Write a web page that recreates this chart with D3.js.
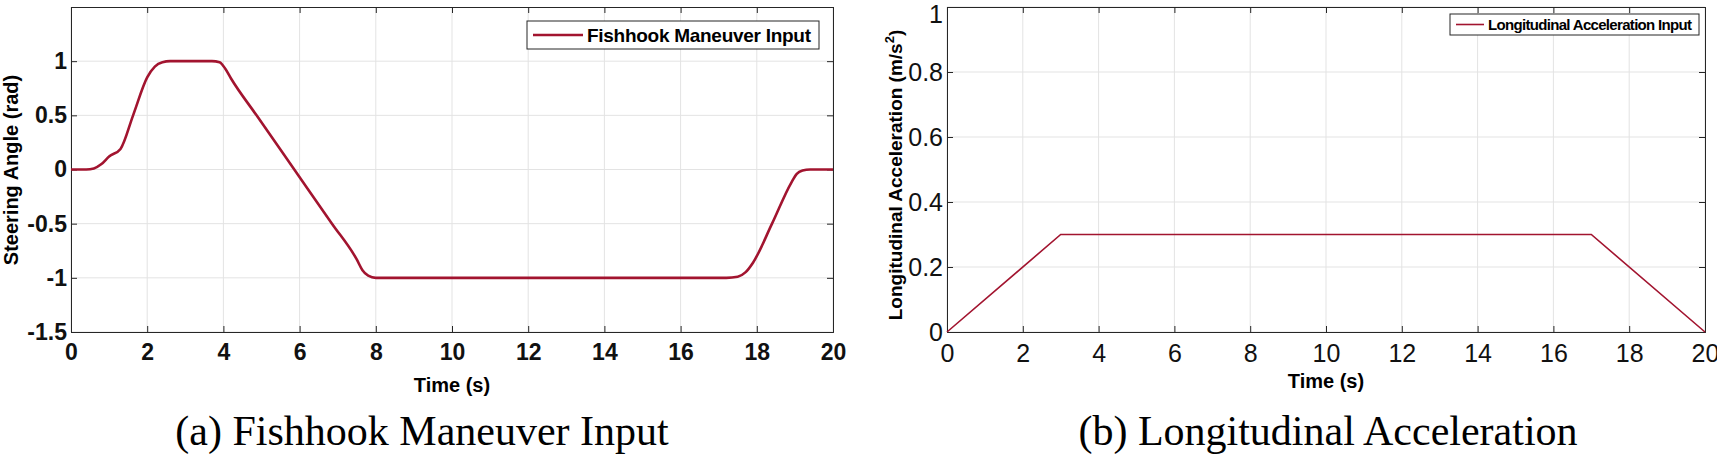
<!DOCTYPE html><html><head><meta charset="utf-8"><script src="https://cdn.jsdelivr.net/npm/d3@7"></script>
<style>body{margin:0;background:#fff}</style></head><body><svg id="c" width="1717" height="470"></svg><script>
const fishT=[0,0.4,0.6,0.8,1.0,1.3,1.63,2.0,2.2,2.4,2.6,3.7,3.9,4.05,4.2,4.87,5.86,6.85,7.5,7.65,7.8,8.0,17.2,17.5,17.7,17.9,18.4,18.9,19.05,19.2,19.4,20];
const fishV=[0,0,0.01,0.05,0.12,0.19,0.5,0.85,0.95,0.99,1,1,0.99,0.93,0.84,0.5,0,-0.5,-0.83,-0.93,-0.98,-1,-1,-0.99,-0.95,-0.86,-0.5,-0.125,-0.04,-0.01,0,0];
const accT=[0,3,17,20];
const accV=[0,0.3,0.3,0];
const xTicks=[0,2,4,6,8,10,12,14,16,18,20];
const yTicksA=[-1.5,-1,-0.5,0,0.5,1];
const yTicksB=[0,0.2,0.4,0.6,0.8,1];
const svg=d3.select('#c');
const COL='#A2142F', TF='"Liberation Sans Narrow","Liberation Sans",Arial,sans-serif';
function panel(o){
 const x=d3.scaleLinear().domain([0,20]).range([o.x0,o.x1]);
 const y=d3.scaleLinear().domain(o.yd).range([o.yb,o.yt]);
 const g=svg.append('g');
 xTicks.forEach(t=>g.append('line').attr('x1',x(t)).attr('x2',x(t)).attr('y1',o.yt).attr('y2',o.yb).attr('stroke','#e3e3e3'));
 o.yt2.forEach(t=>g.append('line').attr('y1',y(t)).attr('y2',y(t)).attr('x1',o.x0).attr('x2',o.x1).attr('stroke','#e3e3e3'));
 const ax=g.append('g').attr('transform',`translate(0,${o.yb})`).call(d3.axisBottom(x).tickValues(xTicks).tickSize(-6).tickPadding(12).tickFormat(d3.format('d')));
 const ay=g.append('g').attr('transform',`translate(${o.x0},0)`).call(d3.axisLeft(y).tickValues(o.yt2).tickSize(-6).tickPadding(4).tickFormat(d=>String(d)));
 g.append('g').attr('transform',`translate(0,${o.yt})`).call(d3.axisTop(x).tickValues(xTicks).tickSize(-6).tickFormat(''));
 g.append('g').attr('transform',`translate(${o.x1},0)`).call(d3.axisRight(y).tickValues(o.yt2).tickSize(-6).tickFormat(''));
 g.selectAll('.domain').attr('stroke','#262626');
 g.selectAll('.tick line').attr('stroke','#262626');
 [ax,ay].forEach(a=>a.selectAll('text').attr('font-family',TF).attr('font-size',o.tfs).attr('fill','#111').attr('font-weight',o.tw));
 ax.selectAll('text').filter(d=>d===20).attr('text-anchor',o.lastAnchor);
 ay.selectAll('text').filter(d=>d===1).attr('dy',o.topDy);
 const line=d3.line().x(d=>x(d[0])).y(d=>y(d[1])).curve(o.curve);
 g.append('path').datum(o.t.map((t,i)=>[t,o.v[i]])).attr('d',line).attr('fill','none').attr('stroke',COL).attr('stroke-width',o.lw);
 g.append('text').attr('x',(o.x0+o.x1)/2).attr('y',o.xly).attr('text-anchor','middle').attr('font-family',TF).attr('font-weight','bold').attr('font-size',20).text('Time (s)');
 const yl=g.append('text').attr('transform',`translate(${o.ylx},${o.yly}) rotate(-90)`).attr('text-anchor','middle').attr('font-family','"Liberation Sans",Arial,sans-serif').attr('font-weight','bold').attr('font-size',o.ylfs);
 o.ylab(yl);
 const L=o.leg;
 g.append('rect').attr('x',L.x).attr('y',L.y).attr('width',L.w).attr('height',L.h).attr('fill','#fff').attr('stroke','#262626');
 g.append('line').attr('x1',L.x+6).attr('x2',L.x+6+L.ll).attr('y1',L.y+L.h/2).attr('y2',L.y+L.h/2).attr('stroke',COL).attr('stroke-width',o.lw);
 g.append('text').attr('x',L.x+10+L.ll).attr('y',L.y+L.h/2).attr('dy','0.35em').attr('font-family',TF).attr('font-weight','bold').attr('font-size',L.fs).attr('textLength',L.tl).text(L.text);
 svg.append('text').attr('x',o.cx).attr('y',445).attr('text-anchor','middle').attr('font-family','"Liberation Serif","DejaVu Serif",serif').attr('font-size',42).text(o.cap);
}
panel({x0:71,x1:833,yt:7,yb:332,yd:[-1.5,1.5],yt2:yTicksA,t:fishT,v:fishV,curve:d3.curveMonotoneX,lw:2.6,tfs:23,tw:'bold',lastAnchor:'middle',topDy:'0.32em',xly:392,ylx:18,yly:170,ylfs:20,
 ylab:t=>t.text('Steering Angle (rad)'),
 leg:{x:527,y:21,w:292,h:28,ll:50,fs:19,tl:224,text:'Fishhook Maneuver Input'},cx:422,cap:'(a) Fishhook Maneuver Input'});
panel({x0:947,x1:1705,yt:7,yb:332,yd:[0,1],yt2:yTicksB,t:accT,v:accV,curve:d3.curveLinear,lw:1.6,tfs:25,tw:'normal',lastAnchor:'middle',topDy:'0.6em',xly:388,ylx:902,yly:175,ylfs:19,
 ylab:t=>{t.append('tspan').text('Longitudinal Acceleration (m/s');t.append('tspan').attr('dy',-8).attr('font-size',13).text('2');t.append('tspan').attr('dy',8).text(')');},
 leg:{x:1450,y:14,w:249,h:21,ll:28,fs:15,tl:204,text:'Longitudinal Acceleration Input'},cx:1328,cap:'(b) Longitudinal Acceleration'});
</script></body></html>
